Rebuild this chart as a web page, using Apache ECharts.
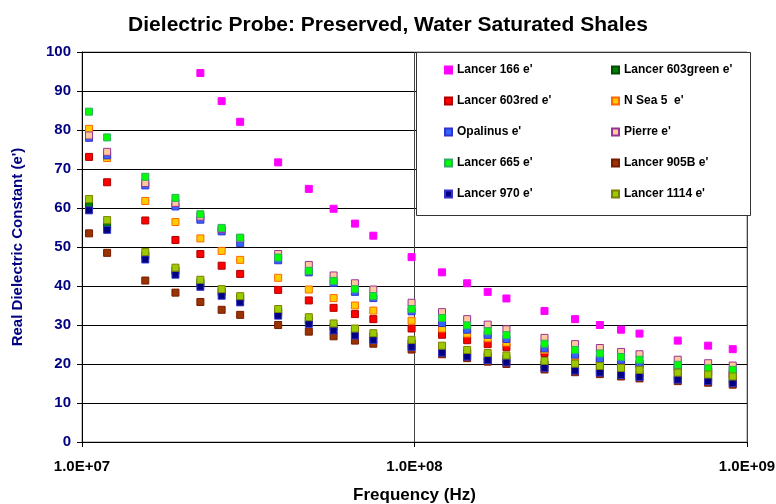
<!DOCTYPE html>
<html>
<head>
<meta charset="utf-8">
<script src="https://cdn.jsdelivr.net/npm/echarts@6/dist/echarts.min.js"></script>
<style>
  body { margin: 0; background: #fff; }
  #chart { width: 776px; height: 504px; }
</style>
</head>
<body>
<div id="chart"></div>
<script>
// frequency (Hz) of each measurement column
var freq = [1.05e7, 1.19e7, 1.55e7, 1.91e7, 2.27e7, 2.63e7, 2.99e7, 3.89e7, 4.81e7, 5.71e7,
  6.62e7, 7.52e7, 9.8e7, 1.21e8, 1.44e8, 1.66e8, 1.89e8, 2.46e8, 3.04e8, 3.61e8,
  4.18e8, 4.75e8, 6.19e8, 7.64e8, 9.06e8];

// real dielectric constant per sample (null = off the chart)
var lancer166 = [null, null, null, null, 94.6, 87.4, 82.1, 71.7, 64.9, 59.8, 56.0, 52.9, 47.4,
  43.5, 40.7, 38.5, 36.8, 33.6, 31.5, 30.0, 28.8, 27.8, 26.0, 24.7, 23.8];
var lancer603green = [60.6, 55.3, 47.8, 43.9, 40.8, 38.5, 36.8, 33.3, 31.2, 29.5, 28.2, 27.1, 25.3,
  23.8, 22.8, 21.9, 21.3, 19.9, 19.2, 18.7, 18.1, 17.6, 16.9, 16.5, 16.0];
var lancer603red = [73.1, 66.6, 56.8, 51.8, 48.2, 45.2, 43.1, 39.0, 36.3, 34.4, 32.8, 31.5, 29.1,
  27.5, 26.1, 25.1, 24.3, 22.8, 21.4, 20.5, 20.2, 19.6, 18.6, 17.8, 17.2];
var nSea5 = [80.3, 72.8, 61.8, 56.4, 52.2, 49.0, 46.7, 42.1, 39.1, 36.9, 35.0, 33.7, 31.1,
  29.1, 27.8, 26.6, 25.5, 23.6, 22.0, 21.0, 20.4, 19.8, 18.9, 18.1, 17.5];
var opalinus = [78.0, 73.5, 65.8, 60.4, 57.0, 54.0, 51.0, 46.6, 43.5, 40.8, 38.5, 36.9, 33.5,
  30.5, 28.8, 27.5, 26.4, 24.0, 22.4, 21.4, 21.0, 20.1, 19.2, 18.4, 17.9];
var pierre = [78.6, 74.4, 66.4, 61.3, 57.8, 54.6, 52.2, 48.2, 45.4, 42.7, 40.7, 39.1, 35.7,
  33.3, 31.5, 30.1, 28.9, 26.7, 25.1, 24.1, 23.1, 22.5, 21.1, 20.2, 19.6];
var lancer665 = [84.7, 78.1, 68.0, 62.6, 58.4, 54.9, 52.4, 47.3, 43.9, 41.3, 39.2, 37.4, 34.1,
  31.8, 29.9, 28.4, 27.4, 25.2, 23.6, 22.7, 21.8, 21.1, 19.8, 18.9, 18.5];
var lancer905B = [53.5, 48.5, 41.4, 38.3, 35.9, 33.9, 32.6, 30.0, 28.3, 27.1, 26.0, 25.2, 23.7,
  22.5, 21.5, 20.6, 20.0, 18.6, 17.9, 17.4, 16.8, 16.3, 15.6, 15.2, 14.7];
var lancer970 = [59.4, 54.4, 46.8, 42.9, 39.8, 37.5, 35.8, 32.4, 30.3, 28.6, 27.3, 26.2, 24.4,
  22.9, 21.9, 21.0, 20.4, 19.0, 18.3, 17.8, 17.2, 16.7, 16.0, 15.6, 15.1];
var lancer1114 = [62.3, 56.9, 48.7, 44.7, 41.6, 39.2, 37.4, 34.1, 32.0, 30.4, 29.1, 27.9, 26.2,
  24.7, 23.6, 22.8, 22.2, 20.8, 20.1, 19.5, 19.0, 18.5, 17.8, 17.3, 16.8];

var yTicks = [0, 10, 20, 30, 40, 50, 60, 70, 80, 90, 100];

var font = 'Liberation Sans, Arial, sans-serif';

// 名称, 数据, 填充色, 边框色
var seriesDefs = [
  ["Lancer 166 e'", lancer166, '#FF00FF', '#FF00FF'],
  ["Lancer 603green e'", lancer603green, '#008000', '#004d00'],
  ["Lancer 603red e'", lancer603red, '#FF0000', '#B00000'],
  ["N Sea 5  e'", nSea5, '#FFCC00', '#FF6600'],
  ["Opalinus e'", opalinus, '#3366FF', '#3333CC'],
  ["Pierre e'", pierre, '#FFCC99', '#993399'],
  ["Lancer 665 e'", lancer665, '#00FF00', '#33AA66'],
  ["Lancer 905B e'", lancer905B, '#993300', '#7a1a00'],
  ["Lancer 970 e'", lancer970, '#000080', '#3333CC'],
  ["Lancer 1114 e'", lancer1114, '#99CC00', '#808000']
];

var series = seriesDefs.map(function (d) {
  return {
    name: d[0],
    type: 'scatter',
    symbol: 'rect',
    symbolSize: 7,
    data: freq.map(function (f, i) { return d[1][i] == null ? null : [f, d[1][i]]; }),
    itemStyle: { color: d[2], borderColor: d[3], borderWidth: 1, opacity: 1 }
  };
});

function sci(v) {
  var e = Math.round(Math.log10(v));
  var m = v / Math.pow(10, e);
  return m.toFixed(1) + 'E+' + (e < 10 ? '0' + e : e);
}

var leftNames = [0, 2, 4, 6, 8].map(function (i) { return seriesDefs[i][0]; });
var rightNames = [1, 3, 5, 7, 9].map(function (i) { return seriesDefs[i][0]; });

var legendBase = {
  orient: 'vertical',
  top: 59,
  itemWidth: 7,
  itemHeight: 7,
  itemGap: 19,
  icon: 'rect',
  selectedMode: false,
  z: 5,
  textStyle: { fontFamily: font, fontWeight: 'bold', fontSize: 12, color: '#000' }
};

var myChart = echarts.init(document.getElementById('chart'));
myChart.setOption({
  backgroundColor: '#fff',
  animation: false,
  title: {
    text: 'Dielectric Probe: Preserved, Water Saturated Shales',
    left: 'center',
    top: 10,
    textStyle: { fontFamily: font, fontWeight: 'bold', fontSize: 21, color: '#000' }
  },
  legend: [
    Object.assign({}, legendBase, { data: leftNames, left: 439 }),
    Object.assign({}, legendBase, { data: rightNames, left: 606 })
  ],
  // 图例外框 (白底, 盖住网格线)
  graphic: [{
    type: 'rect',
    left: 416,
    top: 52,
    shape: { width: 334, height: 163 },
    style: { fill: '#fff', stroke: '#333', lineWidth: 1 },
    z: 3
  }],
  grid: {
    left: 82, right: 29, top: 52, bottom: 62,
    outerBoundsMode: 'none',
    show: true, borderColor: '#888', borderWidth: 1
  },
  xAxis: {
    type: 'log',
    logBase: 10,
    min: 1e7,
    max: 1e9,
    name: 'Frequency (Hz)',
    nameLocation: 'middle',
    nameGap: 45,
    nameTextStyle: { fontFamily: font, fontWeight: 'bold', fontSize: 17, color: '#000' },
    axisLine: { lineStyle: { color: '#000', width: 1 } },
    axisTick: { show: true, length: 5, lineStyle: { color: '#000' } },
    minorTick: { show: false },
    splitLine: { show: true, lineStyle: { color: '#444', width: 1 } },
    axisLabel: {
      fontFamily: font, fontWeight: 'bold', fontSize: 15, color: '#000', margin: 17,
      formatter: function (v) { return sci(v); }
    }
  },
  yAxis: {
    type: 'value',
    min: yTicks[0],
    max: yTicks[yTicks.length - 1],
    interval: 10,
    name: "Real Dielectric Constant (e')",
    nameLocation: 'middle',
    nameGap: 57,
    nameTextStyle: { fontFamily: font, fontWeight: 'bold', fontSize: 15, color: '#000080' },
    axisLine: { show: true, lineStyle: { color: '#000', width: 1 } },
    axisTick: { show: true, length: 5, lineStyle: { color: '#000' } },
    splitLine: { show: true, lineStyle: { color: '#000', width: 1 } },
    axisLabel: { fontFamily: font, fontWeight: 'bold', fontSize: 15, color: '#000080', margin: 11 }
  },
  series: series
});
</script>
</body>
</html>
